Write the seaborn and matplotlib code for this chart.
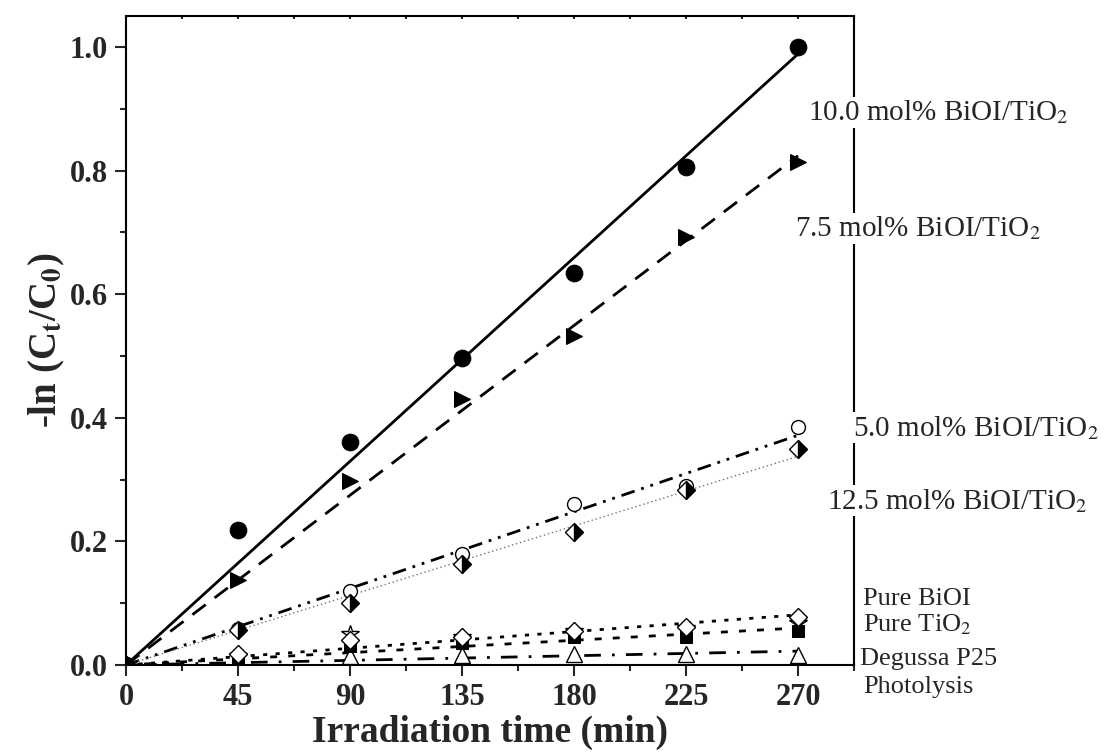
import numpy as np
import pandas as pd
import seaborn as sns
import matplotlib.pyplot as plt

# Data
time_min = [0, 45, 90, 135, 180, 225, 270]
bioi_10_0 = [0, 0.218, 0.360, 0.497, 0.635, 0.805, 1.000]
bioi_7_5 = [0, 0.137, 0.297, 0.430, 0.533, 0.693, 0.813]
bioi_5_0 = [0, 0.058, 0.120, 0.180, 0.260, 0.290, 0.385]
bioi_12_5 = [0, 0.057, 0.100, 0.163, 0.215, 0.283, 0.350]
pure_bioi = [0, 0.018, 0.040, 0.045, 0.055, 0.062, 0.078]
pure_tio2 = [0, 0.010, 0.030, 0.035, 0.045, 0.045, 0.055]
degussa_p25 = [0, 0.015, 0.050, 0.045, 0.055, 0.060, 0.068]
photolysis = [0, 0.005, 0.015, 0.016, 0.018, 0.018, 0.016]

x_ticks = [0, 45, 90, 135, 180, 225, 270]
y_ticks = [0.0, 0.2, 0.4, 0.6, 0.8, 1.0]

sns.set_style("ticks")
plt.rcParams['font.family'] = ['Liberation Serif', 'DejaVu Serif']
plt.rcParams['mathtext.fontset'] = 'stix'

fig = plt.figure(figsize=(11.1, 7.55), dpi=100)
ax = fig.add_axes([0.1135, 0.1192, 0.6559, 0.8596])

t = np.array(time_min, dtype=float)


def fit_origin(y):
    # first-order kinetics: straight line through the origin
    k = np.linalg.lstsq(t[:, None], np.array(y), rcond=None)[0][0]
    return k * t


# fitted lines
sns.lineplot(x=t, y=fit_origin(bioi_10_0), color='black', lw=2, ls='-', ax=ax)
sns.lineplot(x=t, y=fit_origin(bioi_7_5), color='black', lw=2, ls=(0, (6, 4)), ax=ax)
sns.lineplot(x=t, y=fit_origin(bioi_5_0), color='black', lw=2, ls=(0, (5, 2.5, 1, 2.5, 1, 2.5)), ax=ax)
sns.lineplot(x=t, y=fit_origin(bioi_12_5), color='0.45', lw=1, ls=(0, (1, 2)), ax=ax)
sns.lineplot(x=t, y=fit_origin(pure_bioi), color='black', lw=2, ls=(0, (1.5, 3)), ax=ax)
sns.lineplot(x=t, y=fit_origin(pure_tio2), color='black', lw=2, ls=(0, (2.5, 4)), ax=ax)
sns.lineplot(x=t, y=fit_origin(photolysis), color='black', lw=2, ls=(0, (6, 4, 1, 4)), ax=ax)

# measured points
pts = dict(ls='', ax=ax, zorder=4)
sns.lineplot(x=t, y=degussa_p25, marker='*', ms=13, mfc='white', mec='black', mew=1, **pts)
sns.lineplot(x=t, y=photolysis, marker='^', ms=11, mfc='white', mec='black', mew=1, **pts)
sns.lineplot(x=t, y=pure_tio2, marker='s', ms=8, mfc='black', mec='black', **pts)
sns.lineplot(x=t, y=pure_bioi, marker='D', ms=9, mfc='white', mec='black', mew=1, **pts)
sns.lineplot(x=t, y=bioi_5_0, marker='o', ms=10, mfc='white', mec='black', mew=1, **pts)
sns.lineplot(x=t, y=bioi_12_5, marker='D', ms=9, fillstyle='right', mfc='black',
             markerfacecoloralt='white', mec='black', mew=1, **pts)
sns.lineplot(x=t, y=bioi_7_5, marker='>', ms=12, mfc='black', mec='black', **pts)
sns.lineplot(x=t, y=bioi_10_0, marker='o', ms=12, mfc='black', mec='black', **pts)

ax.set_xlim(0, 280)
ax.set_ylim(0, 1.05)
ax.set_xticks(x_ticks)
ax.set_yticks(y_ticks)
ax.set_xticks([v + 22.5 for v in x_ticks], minor=True)
ax.set_yticks([v + 0.1 for v in y_ticks[:-1]], minor=True)
ax.set_xticklabels([str(v) for v in x_ticks], fontsize=22, fontweight='bold')
ax.set_yticklabels([f"{v:.1f}" for v in y_ticks], fontsize=22, fontweight='bold')
ax.tick_params(which='major', direction='out', length=8, width=1.5, pad=5)
ax.tick_params(which='minor', direction='out', length=4, width=1.5)
ax.tick_params(axis='x', which='both', top=True)
for tk in ax.xaxis.get_ticklines(minor=False)[1::2] + ax.xaxis.get_ticklines(minor=True)[1::2]:
    tk.set_markersize(2)
    tk.set_marker(3)

for s in ax.spines.values():
    s.set_linewidth(1.5)
    s.set_color('black')

ax.set_xlabel("Irradiation time (min)", fontsize=27, fontweight='bold', labelpad=2)
ax.set_ylabel(r"-ln (C$_\mathbf{t}$/C$_\mathbf{0}$)", fontsize=28, fontweight='bold', labelpad=2)

# series labels on the right
lab = dict(transform=ax.get_yaxis_transform(), fontsize=21, ha='left', va='baseline',
           clip_on=False, zorder=5,
           bbox=dict(facecolor='white', edgecolor='none', pad=1))
ax.text(0.937, 0.881, r"10.0 mol% BiOI/TiO$_2$", **lab)
ax.text(0.919, 0.694, r"7.5 mol% BiOI/TiO$_2$", **lab)
ax.text(0.999, 0.371, r"5.0 mol% BiOI/TiO$_2$", **lab)
ax.text(0.963, 0.253, r"12.5 mol% BiOI/TiO$_2$", **lab)

low = dict(transform=ax.get_yaxis_transform(), fontsize=19, ha='left', va='baseline',
           clip_on=False)
ax.text(1.012, 0.097, "Pure BiOI", **low)
ax.text(1.012, 0.054, r"Pure TiO$_2$", **low)
ax.text(1.008, 0.000, "Degussa P25", **low)
ax.text(1.012, -0.046, "Photolysis", **low)

fig.savefig("out.png", dpi=100)
